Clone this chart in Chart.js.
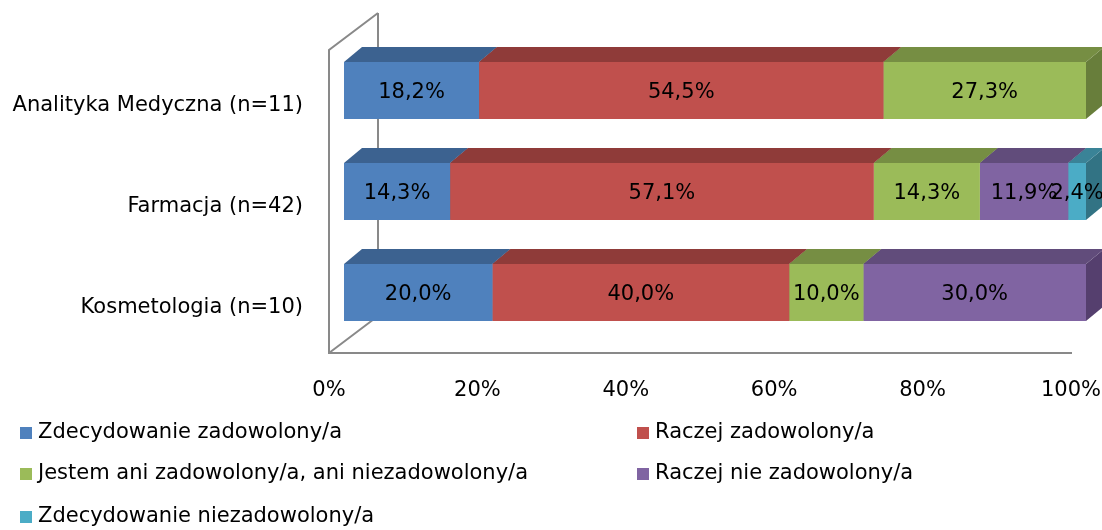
<!DOCTYPE html>
<html>
<head>
<meta charset="utf-8">
<script src="https://cdn.jsdelivr.net/npm/chart.js@4"></script>
<style>
  body { margin: 0; background: #fff; }
  canvas { display: block; }
</style>
</head>
<body>
<canvas id="myChart" width="1102" height="530"></canvas>
<script>
'use strict';
let categories = ['Analityka Medyczna (n=11)', 'Farmacja (n=42)', 'Kosmetologia (n=10)'];
let seriesNames = ['Zdecydowanie zadowolony/a', 'Raczej zadowolony/a',
    'Jestem ani zadowolony/a, ani niezadowolony/a', 'Raczej nie zadowolony/a',
    'Zdecydowanie niezadowolony/a'];
let zdecZadowolony = [18.2, 14.3, 20.0];
let raczejZadowolony = [54.5, 57.1, 40.0];
let aniAni = [27.3, 14.3, 10.0];
let raczejNie = [0, 11.9, 30.0];
let zdecNie = [0, 2.4, 0];
let tickValues = [0, 20, 40, 60, 80, 100];

let frontColors = ['#4F81BD', '#C0504D', '#9BBB59', '#8064A2', '#4BACC6'];
let topColors = ['#3C6290', '#8F3B39', '#768E43', '#614C7B', '#3A8397'];
let sideColors = ['#355682', '#7F3432', '#687E3B', '#553F6E', '#327384'];

let fontFamily = "'DejaVu Sans', sans-serif";
let depthX = 18;
let depthY = 15;

function fmt(v) {
    return v.toFixed(1).replace('.', ',') + '%';
}

let allSeries = [zdecZadowolony, raczejZadowolony, aniAni, raczejNie, zdecNie];
let datasets = [];
for (let i = 0; i < allSeries.length; i++) {
    datasets.push({
        label: seriesNames[i],
        data: allSeries[i],
        backgroundColor: frontColors[i],
        borderWidth: 0,
        categoryPercentage: 1,
        barPercentage: 0.564
    });
}

// walls, floor and the top/side faces of every box
let boxPlugin = {
    id: 'boxes',
    beforeDatasetsDraw(chart) {
        let ctx = chart.ctx;
        let area = chart.chartArea;
        let xs = chart.scales.x;
        let x0 = xs.getPixelForValue(0);
        let x100 = xs.getPixelForValue(100);
        let floorY = area.bottom + 10;
        ctx.save();
        ctx.strokeStyle = '#898989';
        ctx.lineWidth = 2;
        ctx.beginPath();
        ctx.moveTo(x0 + 34, area.top - 27);
        ctx.lineTo(x0 + 34, floorY - 37);
        ctx.stroke();
        ctx.beginPath();
        ctx.moveTo(x0 + 34, area.top - 27);
        ctx.lineTo(x0 - 15, area.top + 10);
        ctx.lineTo(x0 - 15, floorY);
        ctx.lineTo(x100 - 14, floorY);
        ctx.moveTo(x0 - 15, floorY);
        ctx.lineTo(x0 + 34, floorY - 37);
        ctx.stroke();

        for (let d = 0; d < chart.data.datasets.length; d++) {
            let meta = chart.getDatasetMeta(d);
            meta.data.forEach((bar, i) => {
                if (!chart.data.datasets[d].data[i]) return;
                let left = Math.min(bar.base, bar.x);
                let right = Math.max(bar.base, bar.x);
                let top = bar.y - bar.height / 2;
                let bottom = bar.y + bar.height / 2;
                ctx.fillStyle = sideColors[d];
                ctx.beginPath();
                ctx.moveTo(right, top);
                ctx.lineTo(right + depthX, top - depthY);
                ctx.lineTo(right + depthX, bottom - depthY);
                ctx.lineTo(right, bottom);
                ctx.closePath();
                ctx.fill();
                ctx.fillStyle = topColors[d];
                ctx.beginPath();
                ctx.moveTo(left, top);
                ctx.lineTo(right, top);
                ctx.lineTo(right + depthX, top - depthY);
                ctx.lineTo(left + depthX, top - depthY);
                ctx.closePath();
                ctx.fill();
            });
        }
        ctx.restore();
    },
    afterDatasetsDraw(chart) {
        let ctx = chart.ctx;
        ctx.save();
        ctx.font = '21px ' + fontFamily;
        ctx.fillStyle = '#000';
        ctx.textAlign = 'center';
        ctx.textBaseline = 'middle';
        for (let d = 0; d < chart.data.datasets.length; d++) {
            let meta = chart.getDatasetMeta(d);
            meta.data.forEach((bar, i) => {
                let v = chart.data.datasets[d].data[i];
                if (!v) return;
                ctx.fillText(fmt(v), (bar.x + bar.base) / 2, bar.y + 2);
            });
        }
        ctx.restore();
    },
    afterDraw(chart) {
        // legend in two columns
        let ctx = chart.ctx;
        let cols = [20, 637];
        let rows = [433, 474, 517];
        ctx.save();
        ctx.font = '21px ' + fontFamily;
        ctx.textBaseline = 'middle';
        ctx.textAlign = 'left';
        chart.data.datasets.forEach((ds, i) => {
            let cx = cols[i % 2];
            let cy = rows[Math.floor(i / 2)];
            ctx.fillStyle = ds.backgroundColor;
            ctx.fillRect(cx, cy - 6, 12, 12);
            ctx.fillStyle = '#000';
            ctx.fillText(ds.label, cx + 18, cy);
        });
        ctx.restore();
    }
};

let ctx = document.getElementById('myChart').getContext('2d');
let myChart = new Chart(ctx, {
    type: 'bar',
    data: {
        labels: categories,
        datasets: datasets
    },
    options: {
        indexAxis: 'y',
        responsive: false,
        animation: false,
        layout: { autoPadding: false, padding: { top: 40, right: 16, left: 0, bottom: 0 } },
        plugins: {
            legend: { display: false },
            tooltip: { enabled: false }
        },
        scales: {
            x: {
                stacked: true,
                min: 0,
                max: 100,
                afterBuildTicks(scale) {
                    scale.ticks = tickValues.map(v => ({ value: v }));
                },
                afterFit(scale) {
                    scale.height = 187;
                    scale.paddingLeft = 0;
                    scale.paddingRight = 0;
                },
                grid: { display: false, drawTicks: false },
                border: { display: false },
                ticks: {
                    callback: v => v + '%',
                    labelOffset: -15,
                    padding: 35,
                    color: '#000',
                    font: { family: fontFamily, size: 21 }
                }
            },
            y: {
                stacked: true,
                afterFit(scale) {
                    scale.width = 344;
                    scale.paddingTop = 0;
                    scale.paddingBottom = 0;
                },
                grid: { display: false, drawTicks: false },
                border: { display: false },
                ticks: {
                    labelOffset: 15,
                    padding: 41,
                    color: '#000',
                    font: { family: fontFamily, size: 21 }
                }
            }
        }
    },
    plugins: [boxPlugin]
});
</script>
</body>
</html>
